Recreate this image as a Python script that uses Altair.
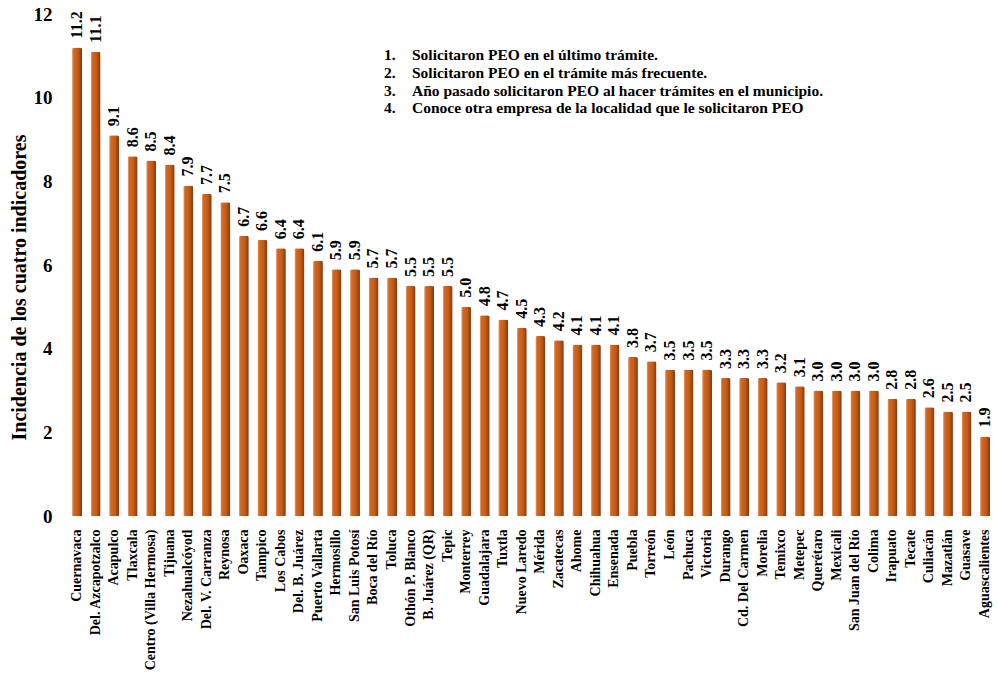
import altair as alt
import pandas as pd

ciudades = [
    "Cuernavaca", "Del. Azcapotzalco", "Acapulco", "Tlaxcala", "Centro (Villa Hermosa)",
    "Tijuana", "Nezahualcóyotl", "Del. V. Carranza", "Reynosa", "Oaxaca",
    "Tampico", "Los Cabos", "Del. B. Juárez", "Puerto Vallarta", "Hermosillo",
    "San Luis Potosí", "Boca del Río", "Toluca", "Othón P. Blanco", "B. Juárez (QR)",
    "Tepic", "Monterrey", "Guadalajara", "Tuxtla", "Nuevo Laredo",
    "Mérida", "Zacatecas", "Ahome", "Chihuahua", "Ensenada",
    "Puebla", "Torreón", "León", "Pachuca", "Victoria",
    "Durango", "Cd. Del Carmen", "Morelia", "Temixco", "Metepec",
    "Querétaro", "Mexicali", "San Juan del Río", "Colima", "Irapuato",
    "Tecate", "Culiacán", "Mazatlán", "Guasave", "Aguascalientes",
]
incidencia = [
    11.2, 11.1, 9.1, 8.6, 8.5, 8.4, 7.9, 7.7, 7.5, 6.7,
    6.6, 6.4, 6.4, 6.1, 5.9, 5.9, 5.7, 5.7, 5.5, 5.5,
    5.5, 5.0, 4.8, 4.7, 4.5, 4.3, 4.2, 4.1, 4.1, 4.1,
    3.8, 3.7, 3.5, 3.5, 3.5, 3.3, 3.3, 3.3, 3.2, 3.1,
    3.0, 3.0, 3.0, 3.0, 2.8, 2.8, 2.6, 2.5, 2.5, 1.9,
]
nota_numeros = ["1.", "2.", "3.", "4."]
nota_textos = [
    "Solicitaron PEO en el último trámite.",
    "Solicitaron PEO en el trámite más frecuente.",
    "Año pasado solicitaron PEO al hacer trámites en el municipio.",
    "Conoce otra empresa de la localidad que le solicitaron PEO",
]
y_ticks = [0, 2, 4, 6, 8, 10, 12]

df = pd.DataFrame({"ciudad": ciudades, "valor": incidencia})
df["etiqueta"] = df["valor"].map(lambda v: f"{v:.1f}")

FONT = "Liberation Serif"

x_enc = alt.X(
    "ciudad:N", sort=ciudades,
    scale=alt.Scale(paddingInner=0.46, paddingOuter=0),
    axis=alt.Axis(title=None, labelAngle=270, labelFont=FONT, labelFontSize=14,
                  labelFontWeight="bold", labelColor="black", ticks=False, tickSize=0,
                  domain=False, labelPadding=13, labelOverlap=False, labelLimit=300),
)
y_enc = alt.Y(
    "valor:Q",
    scale=alt.Scale(domain=[0, 12], nice=False),
    axis=alt.Axis(title="Incidencia de los cuatro indicadores", values=y_ticks,
                  labelFont=FONT, labelFontSize=19, labelFontWeight="bold",
                  labelColor="black", ticks=False, tickSize=0, domain=False,
                  grid=False, labelPadding=20,
                  titleFont=FONT, titleFontSize=20, titleFontWeight="bold",
                  titleColor="black", titleAngle=270, titleX=-53, titleY=273,
                  titleAlign="center", titleBaseline="middle"),
)

gradiente = alt.LinearGradient(
    gradient="linear", x1=0, x2=1, y1=0, y2=0,
    stops=[
        alt.GradientStop(color="#EBB38C", offset=0),
        alt.GradientStop(color="#D06A26", offset=0.18),
        alt.GradientStop(color="#C65A15", offset=0.6),
        alt.GradientStop(color="#A24A12", offset=0.8),
        alt.GradientStop(color="#7E3A10", offset=1),
    ],
)

bars = alt.Chart(df).mark_bar(color=gradiente, cornerRadiusTopLeft=2,
                              cornerRadiusTopRight=2).encode(x=x_enc, y=y_enc)

values = alt.Chart(df).mark_text(
    angle=270, align="left", baseline="middle", dx=9,
    font=FONT, fontSize=16, fontWeight="bold", color="black",
).encode(x=alt.X("ciudad:N", sort=ciudades), y="valor:Q", text="etiqueta:N")

nota_df = pd.DataFrame({"k": [0]})
nums = alt.Chart(nota_df).mark_text(
    text=nota_numeros, align="left", baseline="top", lineHeight=17.8,
    font=FONT, fontSize=15.5, fontWeight="bold", color="black",
).encode(x=alt.value(312), y=alt.value(34))
textos = alt.Chart(nota_df).mark_text(
    text=nota_textos, align="left", baseline="top", lineHeight=17.8,
    font=FONT, fontSize=15.5, fontWeight="bold", color="black",
).encode(x=alt.value(340), y=alt.value(34))

chart = alt.layer(bars, values, nums, textos).properties(
    width=918, height=502,
    autosize=alt.AutoSizeParams(type="none"),
    padding={"left": 72, "top": 14, "right": 8, "bottom": 161},
    background="white",
).configure_view(stroke=None)

chart.save("out.html", embed_options={"renderer": "svg", "actions": False})
